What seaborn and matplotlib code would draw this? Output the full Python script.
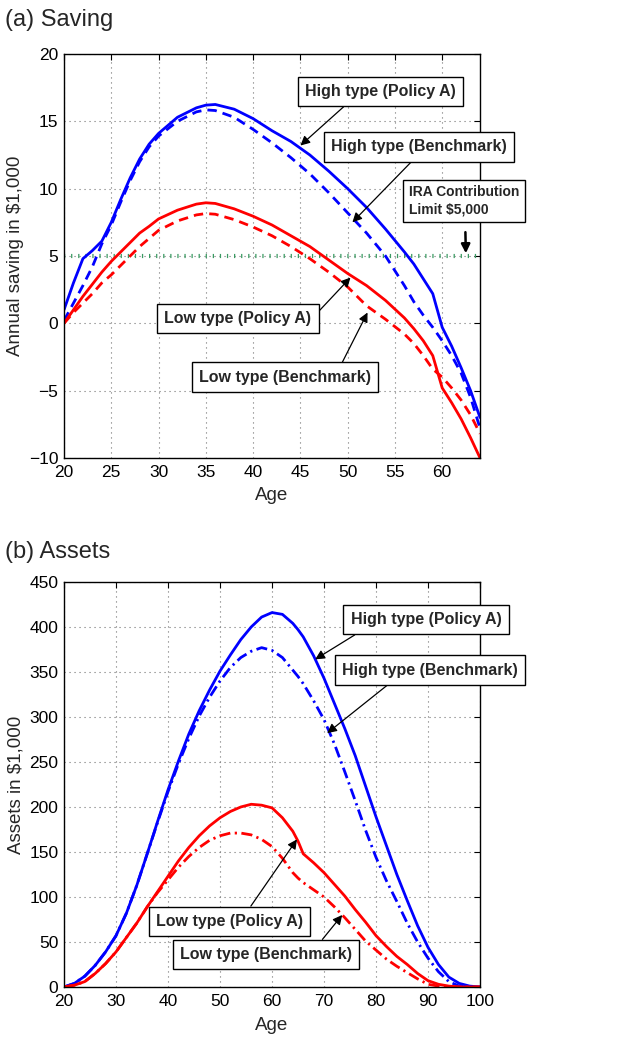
import matplotlib
matplotlib.use("Agg")
import matplotlib.pyplot as plt
import seaborn as sns
import pandas as pd

# ── Data: panel (a) annual saving, $1,000 ─────────────────────────────────────
ages_a = [20, 21, 22, 23, 24, 25, 26, 27, 28, 29, 30, 32, 34, 35, 36, 38, 40,
          42, 44, 46, 48, 50, 52, 54, 56, 57, 58, 59, 60, 61, 62, 63, 64]
save_high_policy = [1.0, 3.0, 4.8, 5.4, 6.1, 7.5, 9.2, 10.8, 12.2, 13.3, 14.1,
                    15.3, 16.0, 16.2, 16.25, 15.9, 15.2, 14.3, 13.5, 12.5,
                    11.3, 10.0, 8.6, 7.0, 5.3, 4.4, 3.3, 2.2, -0.3, -1.7,
                    -3.3, -5.0, -7.0]
save_high_bench = [0.2, 1.5, 2.8, 4.2, 5.9, 7.3, 9.0, 10.6, 12.0, 13.1, 13.9,
                   15.0, 15.7, 15.85, 15.8, 15.3, 14.4, 13.4, 12.3, 11.1,
                   9.7, 8.2, 6.7, 5.0, 2.8, 1.6, 0.6, -0.3, -1.3, -2.4,
                   -3.7, -5.5, -7.8]
save_low_policy = [0.0, 1.0, 2.0, 2.9, 3.8, 4.6, 5.3, 6.0, 6.7, 7.2, 7.75,
                   8.4, 8.85, 8.95, 8.9, 8.5, 7.95, 7.3, 6.5, 5.7, 4.7, 3.7,
                   2.8, 1.7, 0.4, -0.4, -1.3, -2.4, -4.8, -5.9, -7.1, -8.5,
                   -10.0]
save_low_bench = [0.0, 0.8, 1.5, 2.2, 3.0, 3.6, 4.3, 5.0, 5.7, 6.3, 6.9,
                  7.6, 8.05, 8.15, 8.1, 7.7, 7.15, 6.5, 5.7, 4.8, 3.8, 2.7,
                  1.3, 0.3, -0.8, -1.5, -2.4, -3.4, -4.0, -4.8, -5.7, -6.8,
                  -8.2]
ira_limit = 5.0

# ── Data: panel (b) assets, $1,000 ────────────────────────────────────────────
ages_b = [20, 22, 24, 26, 28, 30, 32, 34, 36, 38, 40, 42, 44, 46, 48, 50, 52,
          54, 56, 58, 60, 62, 64, 65, 66, 68, 70, 72, 74, 76, 78, 80, 82, 84,
          86, 88, 90, 92, 94, 96, 98, 100]
assets_high_policy = [0, 4, 12, 24, 39, 57, 82, 113, 148, 184, 219, 251, 281,
                      307, 330, 351, 369, 386, 400, 411, 416, 414, 404, 397,
                      389, 368, 343, 315, 287, 257, 223, 189, 157, 125, 96,
                      68, 44, 25, 11, 4, 1, 0]
assets_high_bench = [0, 4, 12, 24, 39, 57, 82, 113, 148, 183, 217, 248, 276,
                     301, 322, 340, 355, 366, 373, 377, 374, 366, 352, 345,
                     337, 318, 297, 270, 239, 207, 174, 144, 118, 95, 71, 50,
                     32, 17, 6, 1, 0, 0]
assets_low_policy = [0, 2, 6, 15, 26, 39, 55, 71, 89, 106, 123, 140, 155, 168,
                     179, 188, 195, 200, 203, 202, 199, 188, 173, 162, 148,
                     138, 127, 114, 101, 86, 72, 57, 45, 34, 25, 15, 7, 3, 1,
                     0, 0, 0]
assets_low_bench = [0, 2, 6, 15, 26, 39, 55, 71, 89, 105, 119, 133, 145, 155,
                    163, 168, 171, 171, 169, 164, 156, 143, 127, 121, 116,
                    108, 100, 89, 77, 64, 51, 41, 31, 23, 16, 9, 3, 1, 0, 0,
                    0, 0]

BLUE = "#0000ff"
RED = "#ff0000"
GREEN = "#3a9a62"

sns.set_theme(style="white")
plt.rcParams["font.family"] = ["Liberation Sans", "DejaVu Sans"]
plt.rcParams["axes.unicode_minus"] = True

BOX_FONT = dict(family=["Liberation Sans", "DejaVu Sans"],
                fontsize=11.5, fontweight="bold")
BOX = dict(boxstyle="square,pad=0.45", fc="white", ec="black", lw=1.0)


def _style(ax):
    ax.set_facecolor("white")
    for spine in ax.spines.values():
        spine.set_visible(True)
        spine.set_edgecolor("black")
        spine.set_linewidth(1.0)
    ax.tick_params(direction="in", top=True, right=True, length=4,
                   width=0.8, labelsize=12.5, colors="black")
    ax.tick_params(axis="x", pad=5)
    ax.tick_params(axis="y", pad=4)
    ax.grid(True, linestyle=(0, (1, 3.5)), color="0.45", linewidth=0.8)


def _label(ax, text, tip, center, rel):
    ax.annotate(text, xy=tip, xytext=center, ha="center", va="center",
                bbox=BOX, **BOX_FONT,
                arrowprops=dict(arrowstyle="-|>", color="black", lw=0.9,
                                mutation_scale=14, relpos=rel,
                                shrinkA=0, shrinkB=0))


fig = plt.figure(figsize=(6.19, 10.42), dpi=100)
fig.patch.set_facecolor("white")

# ── (a) Saving ────────────────────────────────────────────────────────────────
ax1 = fig.add_axes([0.1034, 0.5605, 0.6721, 0.3877])
ira = ax1.axhline(ira_limit, color=GREEN, lw=3.0, linestyle=(0, (0.3, 1.4)),
                  zorder=1.8)
ira.set_dash_capstyle("butt")
sns.lineplot(x=ages_a, y=save_high_policy, ax=ax1, color=BLUE, lw=2.0)
sns.lineplot(x=ages_a, y=save_high_bench, ax=ax1, color=BLUE, lw=2.0,
             linestyle=(0, (3.4, 2.2)))
sns.lineplot(x=ages_a, y=save_low_policy, ax=ax1, color=RED, lw=2.0)
sns.lineplot(x=ages_a, y=save_low_bench, ax=ax1, color=RED, lw=2.0,
             linestyle=(0, (3.4, 2.2)))
ax1.set_xlim(20, 64)
ax1.set_ylim(-10, 20)
ax1.set_xticks(range(20, 61, 5))
ax1.set_yticks(range(-10, 21, 5))
ax1.set_xlabel("Age", fontsize=13.5)
ax1.set_ylabel("Annual saving in $1,000", fontsize=13.5)
ax1.xaxis.set_label_coords(0.5, -0.072)
ax1.yaxis.set_label_coords(-0.095, 0.5)
_style(ax1)

_label(ax1, "High type (Policy A)", (45.0, 13.2), (53.5, 17.2), (0.31, 0.0))
_label(ax1, "High type (Benchmark)", (50.5, 7.5), (57.5, 13.1), (0.5, 0.0))
_label(ax1, "Low type (Policy A)", (50.3, 3.4), (38.4, 0.37), (1.0, 0.45))
_label(ax1, "Low type (Benchmark)", (52.1, 0.8), (43.4, -4.0), (0.81, 1.0))
ax1.annotate("IRA Contribution\nLimit $5,000", xy=(62.5, 5.2), xytext=(62.3, 9.1),
             ha="center", va="center", multialignment="left", linespacing=1.3,
             bbox=dict(boxstyle="square,pad=0.4", fc="white", ec="black", lw=1.0),
             family=BOX_FONT["family"], fontsize=10, fontweight="bold",
             arrowprops=dict(arrowstyle="-|>", color="black", lw=1.8,
                             mutation_scale=13, relpos=(0.51, 0.0),
                             shrinkA=7, shrinkB=0))

fig.text(5 / 619, 1 - 20 / 1042, "(a) Saving", fontsize=17, va="center", ha="left")

# ── (b) Assets ────────────────────────────────────────────────────────────────
ax2 = fig.add_axes([0.1034, 0.0528, 0.6721, 0.3887])
sns.lineplot(x=ages_b, y=assets_high_policy, ax=ax2, color=BLUE, lw=2.0)
sns.lineplot(x=ages_b, y=assets_high_bench, ax=ax2, color=BLUE, lw=2.0,
             linestyle=(0, (4, 1.6, 0.8, 1.6)))
sns.lineplot(x=ages_b, y=assets_low_policy, ax=ax2, color=RED, lw=2.0)
sns.lineplot(x=ages_b, y=assets_low_bench, ax=ax2, color=RED, lw=2.0,
             linestyle=(0, (4, 1.6, 0.8, 1.6)))
ax2.set_xlim(20, 100)
ax2.set_ylim(0, 450)
ax2.set_xticks(range(20, 101, 10))
ax2.set_yticks(range(0, 451, 50))
ax2.set_xlabel("Age", fontsize=13.5)
ax2.set_ylabel("Assets in $1,000", fontsize=13.5)
ax2.xaxis.set_label_coords(0.5, -0.075)
ax2.yaxis.set_label_coords(-0.095, 0.5)
_style(ax2)

_label(ax2, "High type (Policy A)", (68.3, 364), (89.6, 408), (0.11, 0.0))
_label(ax2, "High type (Benchmark)", (70.6, 282), (90.4, 352), (0.31, 0.0))
_label(ax2, "Low type (Policy A)", (64.8, 164), (51.8, 73), (0.61, 1.0))
_label(ax2, "Low type (Benchmark)", (73.5, 80), (58.9, 36), (0.79, 1.0))

fig.text(5 / 619, 1 - 552 / 1042, "(b) Assets", fontsize=17, va="center", ha="left")

fig.savefig("out.png", dpi=100, facecolor="white")
